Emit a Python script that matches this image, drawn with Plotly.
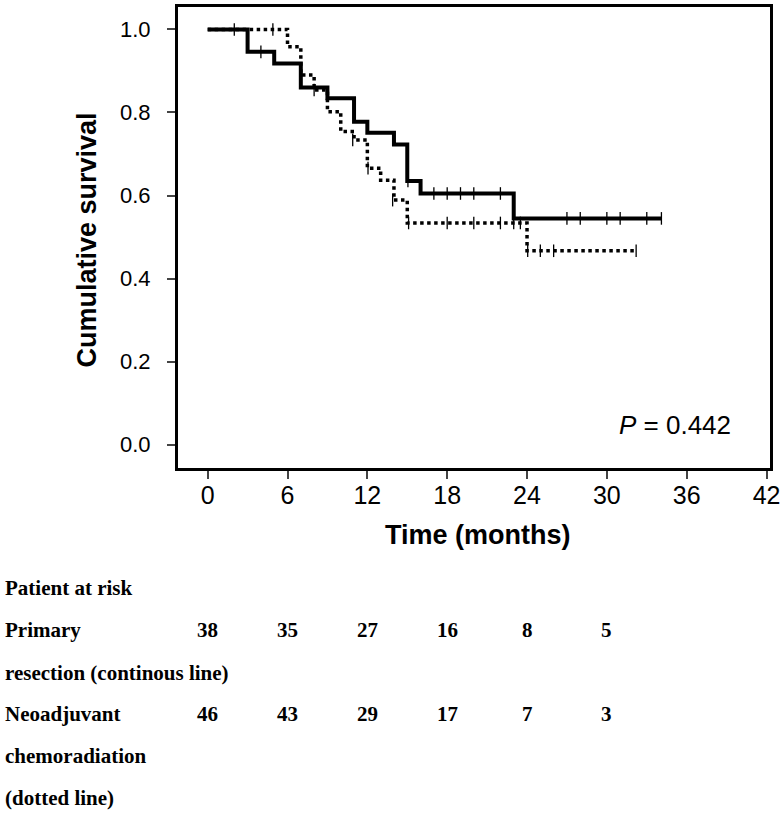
import plotly.graph_objects as go

# ---- data ----
t_primary = [0, 3, 5, 7, 9, 11, 12, 14, 15, 16, 23, 34.1]
s_primary = [1.0, 0.946, 0.918, 0.860, 0.834, 0.778, 0.751, 0.723, 0.635, 0.605, 0.545, 0.545]
cens_t_primary = [2, 4, 15.05, 17, 18, 19, 20, 22, 27, 28, 30, 31, 33, 34.1]
cens_s_primary = [1.0, 0.946, 0.635, 0.605, 0.605, 0.605, 0.605, 0.605, 0.545, 0.545, 0.545, 0.545, 0.545, 0.545]

t_neo = [0, 6, 7, 8, 9, 10, 11, 12, 13, 14, 15, 24, 32.2]
s_neo = [1.0, 0.958, 0.890, 0.854, 0.802, 0.754, 0.734, 0.666, 0.637, 0.589, 0.534, 0.467, 0.467]
cens_t_neo = [4.9, 8, 10.9, 12.05, 13.9, 15.1, 18, 20, 22, 23, 23.5, 24.05, 25, 26, 32.2]
cens_s_neo = [1.0, 0.854, 0.734, 0.666, 0.589, 0.534, 0.534, 0.534, 0.534, 0.534, 0.534, 0.467, 0.467, 0.467, 0.467]

risk_times = [0, 6, 12, 18, 24, 30]
risk_primary = [38, 35, 27, 16, 8, 5]
risk_neo = [46, 43, 29, 17, 7, 3]

x_ticks = [0, 6, 12, 18, 24, 30, 36, 42]
y_ticks = [0.0, 0.2, 0.4, 0.6, 0.8, 1.0]
p_text = "<i>P</i> = 0.442"

# ---- layout geometry (pixels) ----
W, H = 780, 813
L, R, T, B = 177.5, 770, 7, 468


def px(x):
    return (x - L) / (R - L)


def py(y):
    return (B - y) / (B - T)


fig = go.Figure()
fig.add_trace(go.Scatter(x=t_primary, y=s_primary, mode="lines", line_shape="hv",
                         line=dict(color="black", width=4), showlegend=False))
fig.add_trace(go.Scatter(x=t_neo, y=s_neo, mode="lines", line_shape="hv",
                         line=dict(color="black", width=3.5, dash="dot"), showlegend=False))
fig.add_trace(go.Scatter(x=cens_t_primary, y=cens_s_primary, mode="markers",
                         marker=dict(symbol="line-ns-open", size=9, color="black",
                                     line=dict(color="black", width=1.3)),
                         showlegend=False))
fig.add_trace(go.Scatter(x=cens_t_neo, y=cens_s_neo, mode="markers",
                         marker=dict(symbol="line-ns-open", size=9, color="black",
                                     line=dict(color="black", width=1.3)),
                         showlegend=False))

fig.update_layout(
    width=W, height=H,
    margin=dict(l=L, r=W - R, t=T, b=H - B, pad=0, autoexpand=False),
    paper_bgcolor="white", plot_bgcolor="white",
    font=dict(family="Liberation Sans, Arial, sans-serif", color="black"),
    xaxis=dict(range=[-2.23, 42.26], tickvals=x_ticks, ticktext=[str(v) for v in x_ticks],
               showgrid=False, zeroline=False, showline=True, mirror=True, linewidth=3,
               linecolor="black", ticks="outside", ticklen=8, tickwidth=1.5, tickcolor="#444",
               tickfont=dict(size=25, family="Liberation Sans, Arial", color="black"),
               ticklabelstandoff=-5, automargin=False, ticklabeloverflow="allow"),
    yaxis=dict(range=[-0.056, 1.054], tickvals=y_ticks, ticktext=[f"{v:.1f}" for v in y_ticks],
               showgrid=False, zeroline=False, showline=True, mirror=True, linewidth=3,
               linecolor="black", ticks="outside", ticklen=8, tickwidth=1.5, tickcolor="#444",
               tickfont=dict(size=22, family="Liberation Sans, Arial", color="black"),
               ticklabelstandoff=12, automargin=False, ticklabeloverflow="allow"),
)

ann = []
# axis titles
ann.append(dict(x=px(478), y=py(535), xref="paper", yref="paper", text="<b>Time (months)</b>",
                showarrow=False, font=dict(size=27, family="Liberation Sans, Arial", color="black"),
                xanchor="center", yanchor="middle"))
ann.append(dict(x=px(86), y=py(240), xref="paper", yref="paper", text="<b>Cumulative survival</b>",
                showarrow=False, textangle=-90,
                font=dict(size=27, family="Liberation Sans, Arial", color="black"),
                xanchor="center", yanchor="middle"))
# p value
ann.append(dict(x=px(675), y=py(425), xref="paper", yref="paper", text=p_text, showarrow=False,
                font=dict(size=26, family="Liberation Sans, Arial", color="black"),
                xanchor="center", yanchor="middle"))

serif = dict(size=21, family="Liberation Serif, Times New Roman, serif", color="black")
rows = [("Patient at risk", 588), ("Primary", 630), ("resection (continous line)", 673),
        ("Neoadjuvant", 714), ("chemoradiation", 756), ("(dotted line)", 798)]
for txt, yy in rows:
    ann.append(dict(x=px(2), y=py(yy), xref="paper", yref="paper", text=f"<b>{txt}</b>",
                    showarrow=False, font=serif, xanchor="left", yanchor="middle"))
for t, n in zip(risk_times, risk_primary):
    ann.append(dict(x=t, y=py(630), xref="x", yref="paper", text=f"<b>{n}</b>",
                    showarrow=False, font=serif, xanchor="center", yanchor="middle"))
for t, n in zip(risk_times, risk_neo):
    ann.append(dict(x=t, y=py(714), xref="x", yref="paper", text=f"<b>{n}</b>",
                    showarrow=False, font=serif, xanchor="center", yanchor="middle"))

fig.update_layout(annotations=ann)
fig.write_html("out.html", config={"displayModeBar": False},
               post_script="document.body.style.margin='0';document.body.style.overflow='hidden';")
